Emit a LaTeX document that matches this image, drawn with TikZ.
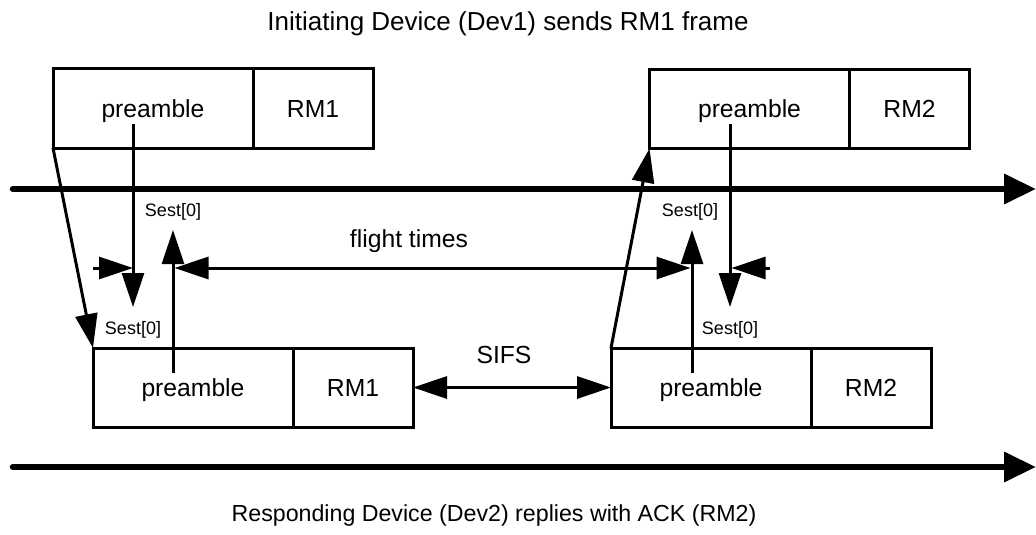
\documentclass[tikz,border=0pt]{standalone}
\usepackage{fontspec}
\setmainfont{Liberation Sans}
\usetikzlibrary{arrows.meta, positioning}

\begin{document}
\begin{tikzpicture}[
        x=1pt, y=-1pt,
        field/.style={
            draw,
            line width=3pt,
            outer sep=0pt,
            inner sep=0pt,
            minimum height=79pt,
            text height=18pt,
            text depth=1pt,
            font=\fontsize{24.7}{28}\selectfont
        },
        pre/.style={field, minimum width=200pt},
        rm/.style={field, minimum width=120pt},
        title/.style={font=\fontsize{26}{30}\selectfont, anchor=base},
        sest/.style={font=\fontsize{18}{21}\selectfont, inner sep=0pt},
        tag/.style={font=\fontsize{24.7}{28}\selectfont, anchor=base, inner sep=0pt},
        axis/.style={-{Triangle[length=32pt, width=29pt]}, line width=6.5pt, line cap=round},
        arrow/.style={-{Triangle[length=34pt, width=22pt]}, line width=3pt},
        twoway/.style={{Triangle[length=34pt, width=22pt]}-{Triangle[length=34pt, width=22pt]}, line width=3pt}
    ]
        \useasboundingbox (0,0) rectangle (1036,535);

        % frames
        \node[pre] (pre1) at (153,108.5) {preamble};
        \node[rm, right=0pt of pre1] (rm1) {RM1};
        \node[pre] (pre2) at (749.5,109) {preamble};
        \node[rm, right=0pt of pre2] (rm2) {RM2};
        \node[pre] (pre3) at (193,387.5) {preamble};
        \node[rm, right=0pt of pre3] (rm3) {RM1};
        \node[pre] (pre4) at (711,387.5) {preamble};
        \node[rm, right=0pt of pre4] (rm4) {RM2};

        % titles and labels
        \node[title] (send) at (508,31) {Initiating Device (Dev1) sends RM1 frame};
        \node[title, font=\fontsize{23.2}{27}\selectfont] (reply) at (494,521) {Responding Device (Dev2) replies with ACK (RM2)};
        \node[tag] (flight) at (409,247) {flight times};
        \node[tag] (sifs) at (504,363) {SIFS};
        \node[sest] (sa) at (173,212) {Sest[0]};
        \node[sest] (sb) at (690,212) {Sest[0]};
        \node[sest] (sc) at (133,330) {Sest[0]};
        \node[sest] (sd) at (730,330) {Sest[0]};

        % time axes
        \coordinate (ax1) at (13,189);
        \coordinate (ax1end) at (1036,189);
        \coordinate (ax2) at (13,467);
        \coordinate (ax2end) at (1036,467);
        \draw[axis] (ax1) -- (ax1end);
        \draw[axis] (ax2) -- (ax2end);

        % marks
        \coordinate (p1) at (133,124);
        \coordinate (p1end) at (133,307);
        \coordinate (p2) at (730,124);
        \coordinate (p2end) at (730,307);
        \coordinate (p3) at (173,373);
        \coordinate (p3end) at (173,230);
        \coordinate (p4) at (692,373);
        \coordinate (p4end) at (692,230);
        \coordinate (m1) at (93,268);
        \coordinate (m1end) at (133,268);
        \coordinate (m2) at (770,268);
        \coordinate (m2end) at (731.5,268);
        \coordinate (f1) at (174.5,268);
        \coordinate (f2) at (690.5,268);

        \draw[arrow] (p1) -- (p1end);
        \draw[arrow] (p2) -- (p2end);
        \draw[arrow] (p3) -- (p3end);
        \draw[arrow] (p4) -- (p4end);
        \draw[arrow] (m1) -- (m1end);
        \draw[arrow] (m2) -- (m2end);
        \draw[twoway] (f1) -- (f2);

        % propagation
        \draw[arrow] (pre1.south west) -- (pre3.north west);
        \draw[arrow] (pre4.north west) -- (pre2.south west);
        \draw[twoway] (rm3.east) -- (pre4.west);
    \end{tikzpicture}
\end{document}
